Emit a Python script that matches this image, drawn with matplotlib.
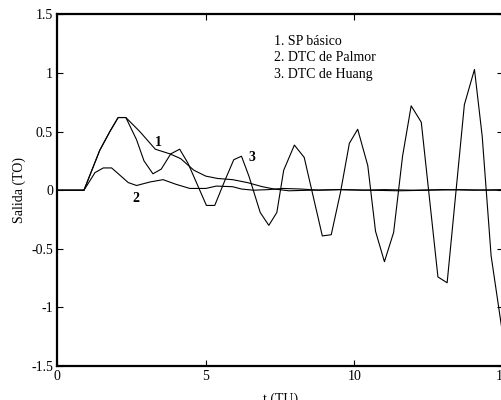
import matplotlib
matplotlib.use("Agg")
from matplotlib import pyplot as plt

plt.rcParams['font.family'] = ['Liberation Serif', 'DejaVu Serif']
plt.rcParams['font.size'] = 10

# 1. SP basico
t_sp = [0, 0.9, 1.43, 1.77, 2.05, 2.31, 2.78, 3.3, 3.79, 4.15, 4.6, 5.0, 5.4,
        5.9, 6.4, 6.9, 7.3, 7.8, 8.5, 9.5, 10.5, 11.5, 12.5, 13.5, 14.5, 15]
v_sp = [0, 0, 0.34, 0.5, 0.62, 0.62, 0.50, 0.35, 0.31, 0.27, 0.17, 0.12, 0.10,
        0.09, 0.065, 0.03, 0.01, -0.005, 0.0, 0.005, 0.0, -0.005, 0.0, 0.005,
        0.0, 0.0]

# 2. DTC de Palmor
t_palmor = [0, 0.9, 1.27, 1.55, 1.83, 2.1, 2.39, 2.67, 3.12, 3.56, 4.0, 4.46,
            5.0, 5.35, 5.9, 6.2, 6.6, 7.1, 7.6, 8.2, 8.8, 9.5, 10.3, 11, 12,
            13, 14, 15]
v_palmor = [0, 0, 0.15, 0.19, 0.19, 0.13, 0.065, 0.04, 0.07, 0.09, 0.05,
            0.015, 0.015, 0.035, 0.03, 0.01, 0.0, 0.005, 0.015, 0.01, 0.0,
            0.005, 0.0, 0.005, 0.0, 0.005, 0.0, 0.005]

# 3. DTC de Huang
t_huang = [0, 0.9, 1.43, 1.77, 2.05, 2.31, 2.67, 2.92, 3.22, 3.5, 3.82, 4.12,
           4.4, 5.02, 5.3, 5.62, 5.94, 6.2, 6.45, 6.83, 7.12, 7.39, 7.62,
           7.98, 8.31, 8.92, 9.22, 9.53, 9.83, 10.11, 10.45, 10.71, 11.01,
           11.32, 11.62, 11.91, 12.25, 12.81, 13.12, 13.7, 14.04, 14.3, 14.6,
           15.0]
v_huang = [0, 0, 0.34, 0.5, 0.62, 0.62, 0.43, 0.25, 0.14, 0.18, 0.31, 0.35,
           0.23, -0.13, -0.13, 0.07, 0.26, 0.29, 0.12, -0.19, -0.30, -0.19,
           0.17, 0.385, 0.28, -0.39, -0.38, -0.02, 0.40, 0.52, 0.21, -0.35,
           -0.61, -0.36, 0.29, 0.72, 0.58, -0.74, -0.79, 0.73, 1.03, 0.46,
           -0.56, -1.25]

legend_lines = ["1. SP básico", "2. DTC de Palmor", "3. DTC de Huang"]

fig = plt.figure(figsize=(5.02, 4.0), dpi=100)
ax = fig.add_axes([0.114, 0.085, 0.888, 0.879])

for t, v in ((t_sp, v_sp), (t_palmor, v_palmor), (t_huang, v_huang)):
    ax.plot(t, v, color='black', linewidth=0.8)

ax.text(3.42, 0.41, "1", fontweight='bold', ha='center', va='center')
ax.text(2.64, -0.07, "2", fontweight='bold', ha='center', va='center')
ax.text(6.54, 0.28, "3", fontweight='bold', ha='center', va='center')

for i, line in enumerate(legend_lines):
    ax.text(7.31, 1.24 - 0.14 * i, line, ha='left', va='baseline')

ax.set_xlim(0, 15)
ax.set_ylim(-1.5, 1.5)
ax.set_xticks([0, 5, 10, 15])
ax.set_yticks([-1.5, -1, -0.5, 0, 0.5, 1, 1.5])
ax.set_yticklabels(["-1.5", "-1", "-0.5", "0", "0.5", "1", "1.5"])
ax.tick_params(direction='in', top=True, right=True, length=4, width=0.8,
               pad=3)
for s in ax.spines.values():
    s.set_linewidth(1.6)

ax.set_xlabel("t (TU)", labelpad=7)
ax.set_ylabel("Salida (TO)", labelpad=4)

fig.savefig("out.png", dpi=100)
